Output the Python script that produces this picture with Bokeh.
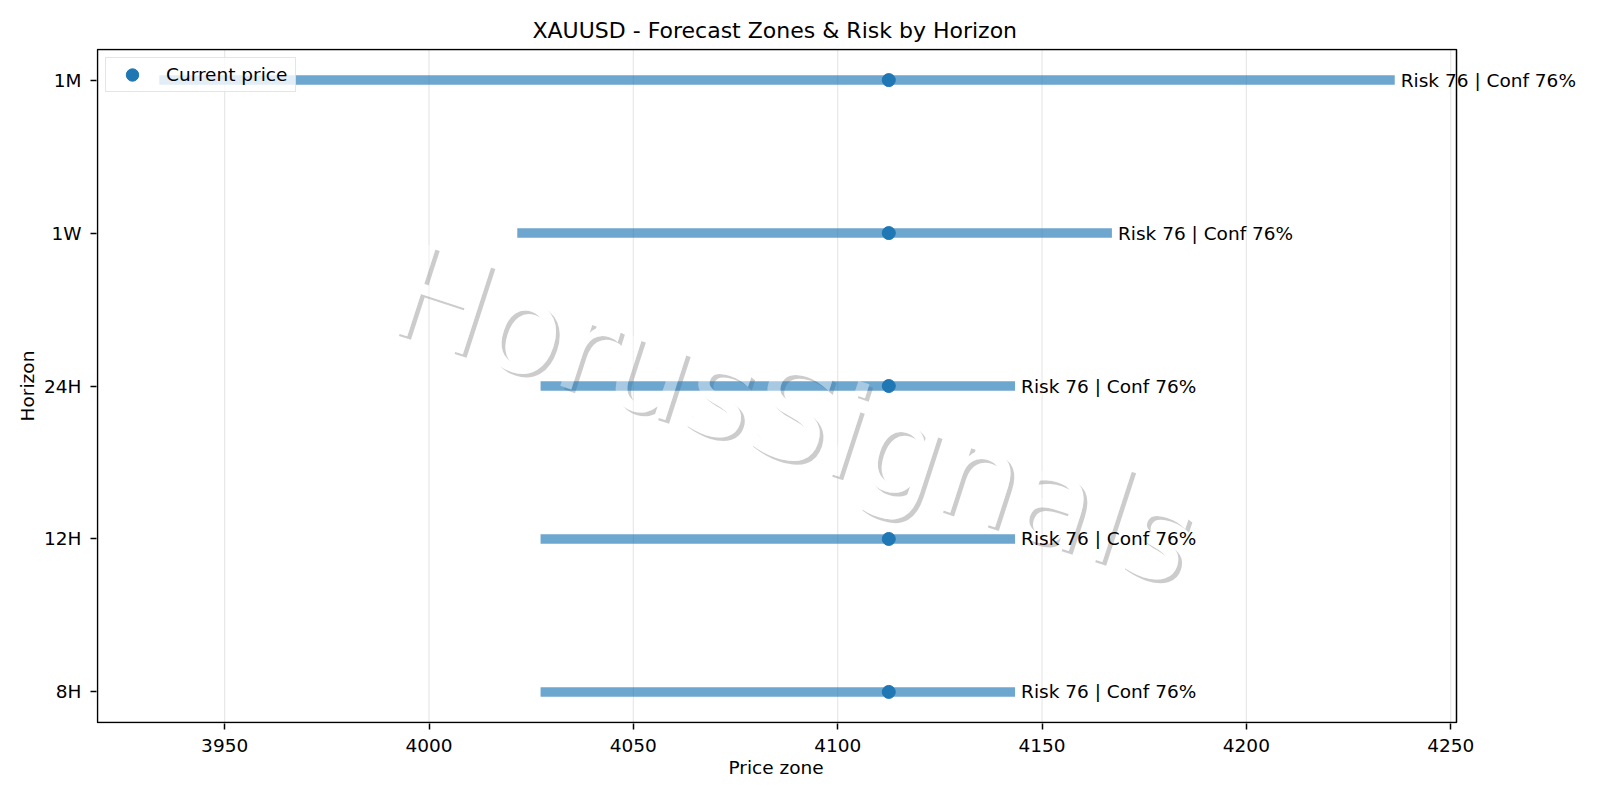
from bokeh.plotting import figure
from bokeh.models import Range1d, FixedTicker, ColumnDataSource, Title
from bokeh.core.properties import value
from bokeh.embed import file_html
from bokeh.resources import INLINE

# ---------------- data ----------------
chart_title = "XAUUSD - Forecast Zones & Risk by Horizon"
x_label = "Price zone"
y_label = "Horizon"
horizons = ["8H", "12H", "24H", "1W", "1M"]
zone_low = [4027.3, 4027.3, 4027.3, 4021.6, 3934.0]
zone_high = [4143.4, 4143.4, 4143.4, 4167.1, 4236.3]
current_price = [4112.5, 4112.5, 4112.5, 4112.5, 4112.5]
risk = [76, 76, 76, 76, 76]
conf = [76, 76, 76, 76, 76]
x_ticks = [3950, 4000, 4050, 4100, 4150, 4200, 4250]
watermark = "HorusSignals"

# ---------------- derived ----------------
ypos = list(range(len(horizons)))
labels = [f"Risk {r} | Conf {c}%" for r, c in zip(risk, conf)]
src = ColumnDataSource(dict(y=ypos, lo=zone_low, hi=zone_high, cur=current_price, lab=labels))

FONT = "DejaVu Sans"
BLUE = "#1f77b4"

xmin, xmax = min(zone_low), max(zone_high)
xpad = 0.05 * (xmax - xmin)
ax_x0, ax_x1 = xmin - xpad, xmax + xpad          # visible axes box
ymin, ymax = -0.2, len(horizons) - 1 + 0.2

# the drawing frame extends to the right so labels can run past the axes box
AX_W, AX_H = 1359, 673
FRAME_LEFT = 96
FRAME_W = 1600 - FRAME_LEFT
FRAME_H = AX_H + 2
ppu = AX_W / (ax_x1 - ax_x0)
ppy = AX_H / (ymax - ymin)
fx0 = ax_x0 - 1 / ppu
fx1 = fx0 + FRAME_W / ppu
fy0 = ymin - 1 / ppy
fy1 = ymax + 1 / ppy

p = figure(frame_width=FRAME_W, frame_height=FRAME_H,
           min_border_left=FRAME_LEFT, min_border_right=0,
           min_border_top=48, min_border_bottom=77,
           x_range=Range1d(fx0, fx1), y_range=Range1d(fy0, fy1),
           output_backend="svg", toolbar_location=None)

p.background_fill_color = "white"
p.border_fill_color = "white"
p.outline_line_color = None
p.xgrid.grid_line_color = None
p.ygrid.grid_line_color = None

p.title.text = chart_title
p.title.align = "left"
p.title.offset = 436
p.title.text_font = FONT
p.title.text_font_size = "22px"
p.title.text_font_style = "normal"
p.title.text_color = "black"
p.title.standoff = 12

for ax in (p.xaxis[0], p.yaxis[0]):
    ax.axis_line_color = None
    ax.major_tick_line_color = "black"
    ax.major_tick_line_width = 1.5
    ax.major_tick_out = 6
    ax.major_tick_in = 0
    ax.minor_tick_line_color = None
    ax.major_label_text_font = FONT
    ax.major_label_text_font_size = "18.5px"
    ax.major_label_text_color = "black"
    ax.axis_label_text_font = FONT
    ax.axis_label_text_font_size = "18.5px"
    ax.axis_label_text_font_style = "normal"
    ax.axis_label_text_color = "black"

p.xaxis.ticker = FixedTicker(ticks=x_ticks)
p.xaxis.major_label_standoff = 9

p.add_layout(Title(text=x_label, align="left", offset=632, standoff=0,
                   text_font=FONT, text_font_size="18.5px", text_font_style="normal",
                   text_color="black"), "below")

p.yaxis.ticker = FixedTicker(ticks=ypos)
p.yaxis.major_label_overrides = {i: h for i, h in zip(ypos, horizons)}
p.yaxis.axis_label = y_label
p.yaxis.major_label_standoff = 9
p.yaxis.axis_label_standoff = 3

# ---------------- watermark (under the data) ----------------
wm_x, wm_y = 4089.3, 1.81
wm_common = dict(x=[wm_x], y=[wm_y], text=[watermark], angle=-18, angle_units="deg",
                 text_font=value(FONT), text_font_size=value("128px"),
                 text_align="center", text_baseline="alphabetic")
p.text(x_offset=3.7, y_offset=3.7, text_color="black", text_alpha=0.2, **wm_common)
p.text(text_color="white", text_alpha=1.0, **wm_common)

# ---------------- grid lines ----------------
p.segment(x0=x_ticks, y0=[ymin] * len(x_ticks), x1=x_ticks, y1=[ymax] * len(x_ticks),
          line_color="#b0b0b0", line_alpha=0.3, line_width=1.2)

# ---------------- forecast zones ----------------
p.segment(x0="lo", y0="y", x1="hi", y1="y", source=src,
          line_color=BLUE, line_alpha=0.65, line_width=9.5, line_cap="butt")

# watermark overlay lightening bars
p.text(text_color="white", text_alpha=0.4, **wm_common)

# ---------------- current price + labels ----------------
p.scatter(x="cur", y="y", source=src, size=13, marker="circle",
          fill_color=BLUE, line_color=BLUE, legend_label="Current price")

p.text(x="hi", y="y", text="lab", source=src, x_offset=6,
       text_font=value(FONT), text_font_size=value("18.5px"),
       text_color="black", text_align="left", text_baseline="middle")

# ---------------- axes box ----------------
p.quad(left=[ax_x0], right=[ax_x1], bottom=[ymin], top=[ymax],
       fill_color=None, line_color="black", line_width=1.5)

# ---------------- legend ----------------
lg = p.legend[0]
lg.location = "top_left"
lg.margin = 9
lg.padding = 1
lg.spacing = 0
lg.glyph_width = 50
lg.glyph_height = 31
lg.label_height = 31
lg.label_width = 128
lg.label_standoff = 9
lg.label_text_font = FONT
lg.label_text_font_size = "18.5px"
lg.label_text_color = "black"
lg.border_line_color = "#cccccc"
lg.border_line_width = 1.2
lg.background_fill_color = "white"
lg.background_fill_alpha = 0.8

open("out.html", "w").write(file_html(p, INLINE))
